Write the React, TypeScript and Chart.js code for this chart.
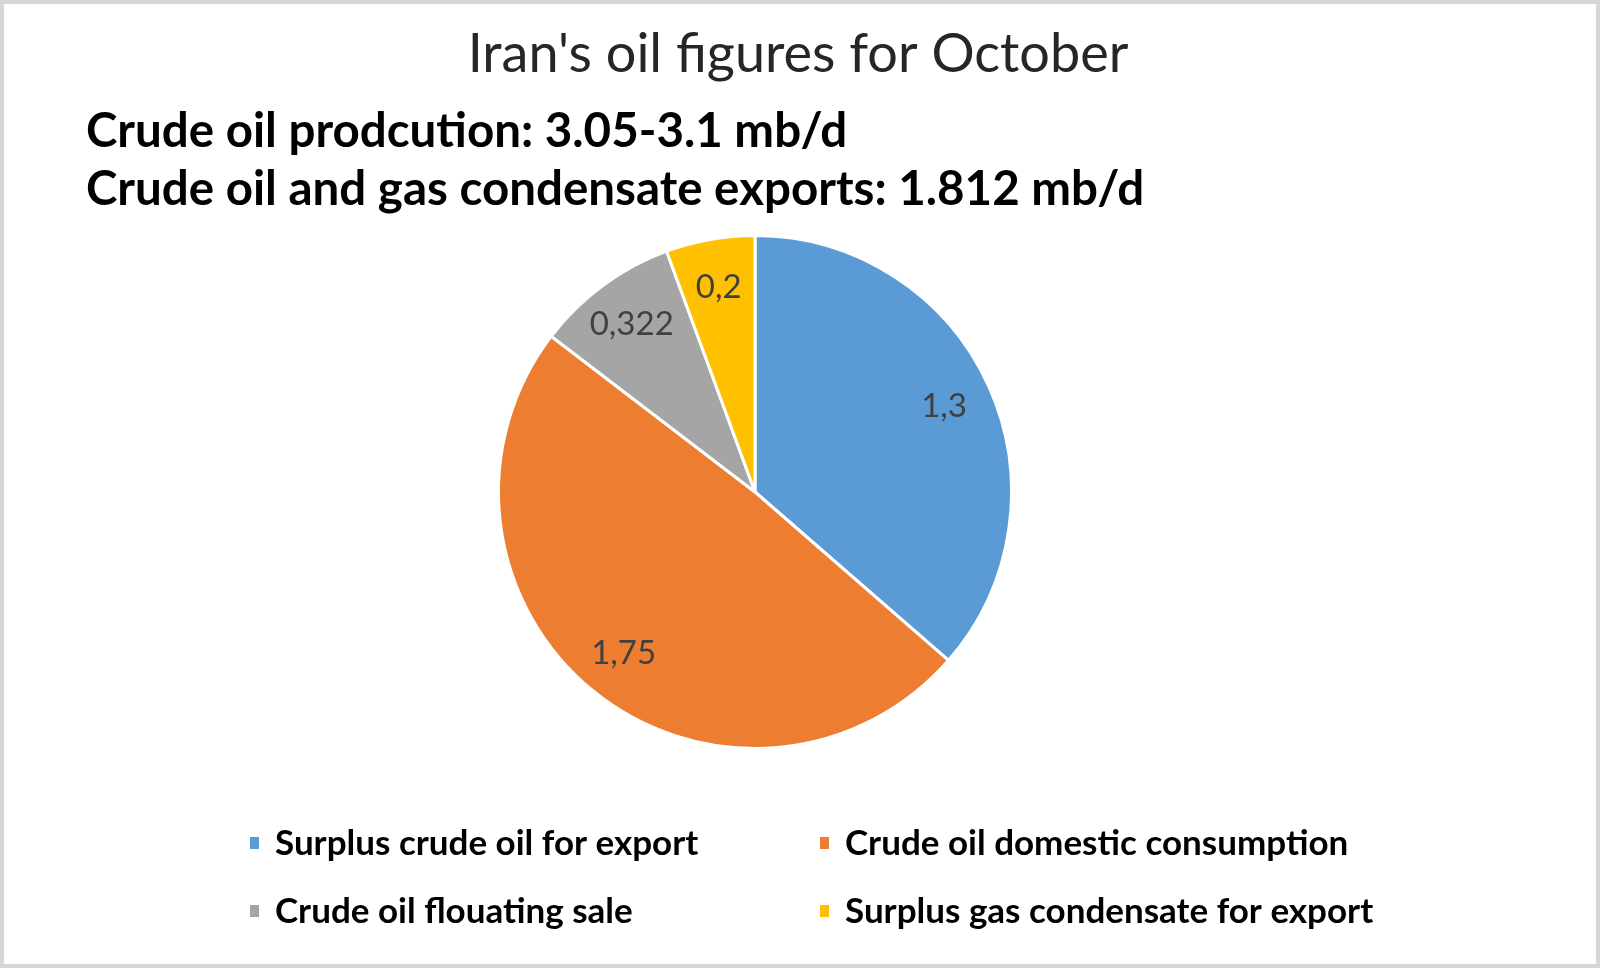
import React, { useEffect, useRef } from "react";
import { Chart, registerables } from "chart.js";

Chart.register(...registerables);

const TITLE = "Iran's oil figures for October";
const SUBTITLE_LINES = [
  "Crude oil prodcution: 3.05-3.1 mb/d",
  "Crude oil and gas condensate exports: 1.812 mb/d",
];
const CATEGORIES = [
  "Surplus crude oil for export",
  "Crude oil domestic consumption",
  "Crude oil flouating sale",
  "Surplus gas condensate for export",
];
const VALUES = [1.3, 1.75, 0.322, 0.2];
const VALUE_LABELS = ["1,3", "1,75", "0,322", "0,2"];
const COLORS = ["#5B9BD5", "#ED7D31", "#A5A5A5", "#FFC000"];

const FONT = "Lato, 'Open Sans', sans-serif";

const decorPlugin = {
  id: "decor",
  beforeDraw(chart: any) {
    const { ctx, width, height } = chart;
    ctx.save();
    ctx.fillStyle = "#ffffff";
    ctx.fillRect(0, 0, width, height);
    ctx.strokeStyle = "#d6d6d6";
    ctx.lineWidth = 4;
    ctx.strokeRect(2, 2, width - 4, height - 4);
    ctx.restore();
  },
  afterDraw(chart: any) {
    const { ctx } = chart;
    ctx.save();
    // title
    ctx.fillStyle = "#262626";
    ctx.font = `400 54px ${FONT}`;
    ctx.textAlign = "center";
    ctx.textBaseline = "alphabetic";
    ctx.fillText(TITLE, 798, 72);
    // subtitle lines
    ctx.fillStyle = "#000000";
    ctx.font = `700 47.5px ${FONT}`;
    ctx.textAlign = "left";
    const subY = [147, 205];
    SUBTITLE_LINES.forEach((t, i) => ctx.fillText(t, 86, subY[i]));
    // data labels
    const meta = chart.getDatasetMeta(0);
    ctx.font = `400 33px ${FONT}`;
    ctx.fillStyle = "#404040";
    ctx.textAlign = "center";
    ctx.textBaseline = "middle";
    meta.data.forEach((arc: any, i: number) => {
      const mid = (arc.startAngle + arc.endAngle) / 2;
      const r = arc.outerRadius * 0.81;
      ctx.fillText(VALUE_LABELS[i], arc.x + Math.cos(mid) * r, arc.y + Math.sin(mid) * r);
    });
    // legend (2 x 2 grid)
    const colX = [250, 820];
    const rowY = [855, 923];
    ctx.font = `700 35px ${FONT}`;
    ctx.textAlign = "left";
    ctx.textBaseline = "alphabetic";
    CATEGORIES.forEach((c, i) => {
      const x = colX[i % 2];
      const y = rowY[Math.floor(i / 2)];
      ctx.fillStyle = COLORS[i];
      ctx.fillRect(x, y - 18, 9, 12);
      ctx.fillStyle = "#000000";
      ctx.fillText(c, x + 25, y);
    });
    ctx.restore();
  },
};

export default function App() {
  const ref = useRef<HTMLCanvasElement>(null);
  useEffect(() => {
    document.body.style.margin = "0";
    const chart = new Chart(ref.current as HTMLCanvasElement, {
      type: "pie",
      data: {
        labels: CATEGORIES,
        datasets: [
          {
            data: VALUES,
            backgroundColor: COLORS,
            borderColor: "#ffffff",
            borderWidth: 3,
          },
        ],
      },
      options: {
        responsive: false,
        animation: false,
        layout: { padding: { top: 234, bottom: 218, left: 400, right: 490 } },
        plugins: {
          legend: { display: false },
          title: { display: false },
          tooltip: { enabled: false },
        },
      },
      plugins: [decorPlugin],
    });
    return () => chart.destroy();
  }, []);
  return (
    <div style={{ width: 1600, height: 968 }}>
      <canvas ref={ref} width={1600} height={968} style={{ display: "block" }} />
    </div>
  );
}
